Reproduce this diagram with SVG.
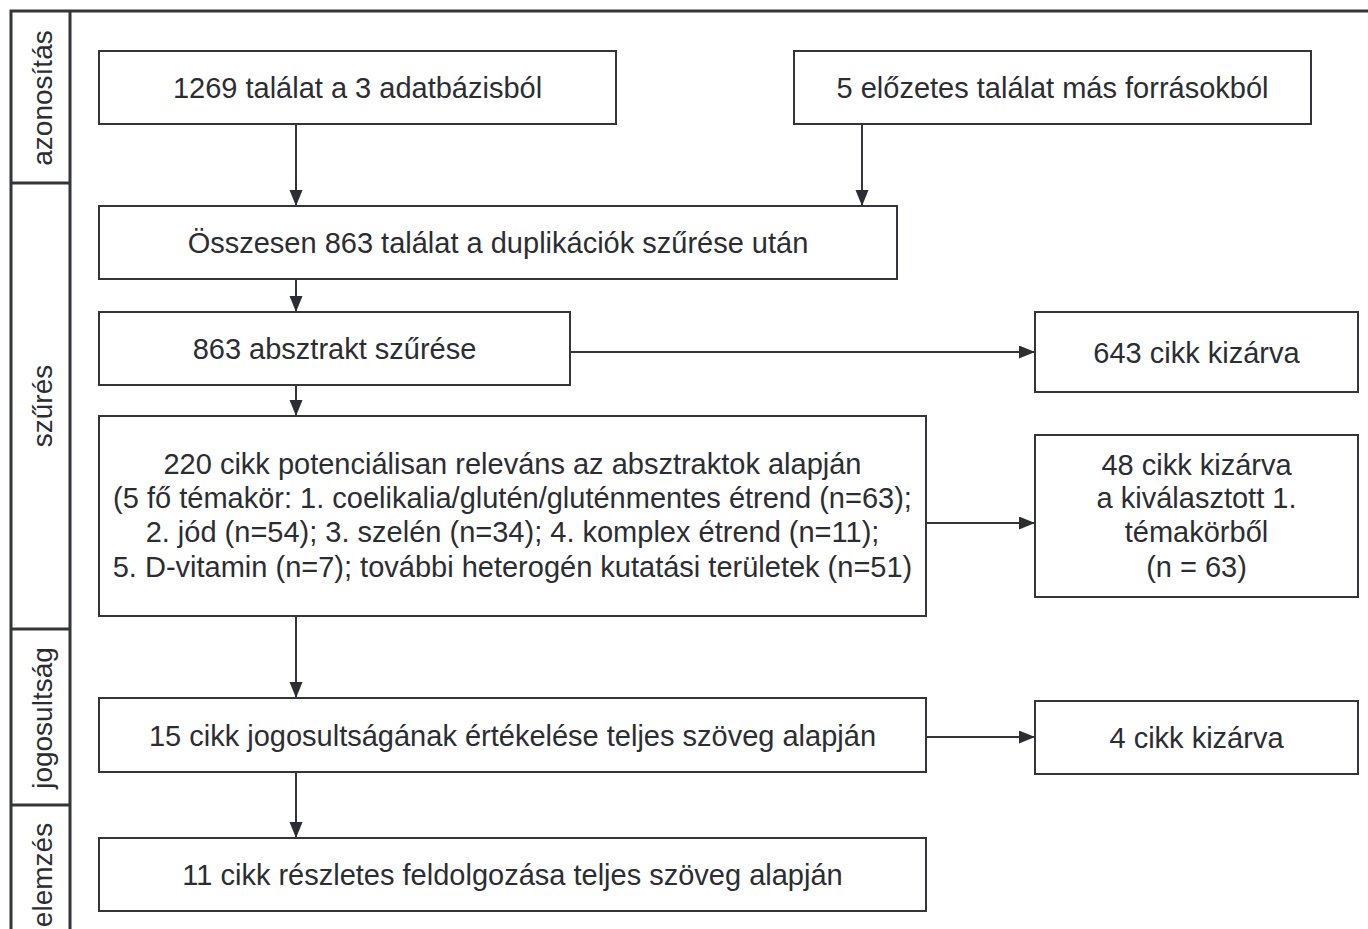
<svg xmlns="http://www.w3.org/2000/svg" width="1368" height="929" viewBox="0 0 1368 929">
<defs>
<style>
.box{fill:#fff;stroke:#33353a;stroke-width:2}
.frame{stroke:#33353a;stroke-width:3;fill:none}
.t{font-family:"Liberation Sans",Arial,sans-serif;font-size:29px;fill:#2b2d33;text-anchor:middle}
.lab{font-family:"Liberation Sans",Arial,sans-serif;font-size:28px;fill:#2b2d33;text-anchor:middle}
.c{stroke:#33353a;stroke-width:2;fill:none;marker-end:url(#ah)}
</style>
<marker id="ah" markerUnits="userSpaceOnUse" markerWidth="17" markerHeight="14" refX="16" refY="6.5" orient="auto">
<path d="M0,0 L16,6.5 L0,13 z" fill="#2b2d33"/>
</marker>
</defs>
<rect width="1368" height="929" fill="#fff"/>
<g id="frame">
<path class="frame" d="M11,929 V11 H1368 M70,11 V929 M11,183 H70 M11,629 H70 M11,805 H70"/>
<text class="lab" transform="translate(52,98) rotate(-90)">azonosítás</text>
<text class="lab" transform="translate(52,406) rotate(-90)">szűrés</text>
<text class="lab" transform="translate(52,718) rotate(-90)">jogosultság</text>
<text class="lab" transform="translate(52,875) rotate(-90)">elemzés</text>
</g>
<g id="connectors">
<path class="c" d="M296,124 V206"/>
<path class="c" d="M862,124 V206"/>
<path class="c" d="M296,279 V312"/>
<path class="c" d="M570,352 H1035"/>
<path class="c" d="M296,385 V416"/>
<path class="c" d="M926,523 H1035"/>
<path class="c" d="M296,616 V698"/>
<path class="c" d="M926,737 H1035"/>
<path class="c" d="M296,772 V838"/>
</g>
<g id="n1"><rect class="box" x="99" y="51" width="517" height="73"/><text class="t" x="357.5" y="98">1269 találat a 3 adatbázisból</text></g>
<g id="n2"><rect class="box" x="794" y="51" width="517" height="73"/><text class="t" x="1052.5" y="98">5 előzetes találat más forrásokból</text></g>
<g id="n3"><rect class="box" x="99" y="206" width="798" height="73"/><text class="t" x="498" y="253">Összesen 863 találat a duplikációk szűrése után</text></g>
<g id="n4"><rect class="box" x="99" y="312" width="471" height="73"/><text class="t" x="334.5" y="359">863 absztrakt szűrése</text></g>
<g id="n5"><rect class="box" x="1035" y="312" width="323" height="80"/><text class="t" x="1196.5" y="363">643 cikk kizárva</text></g>
<g id="n6"><rect class="box" x="99" y="416" width="827" height="200"/>
<text class="t" x="512.5" y="474">220 cikk potenciálisan releváns az absztraktok alapján</text>
<text class="t" x="512.5" y="508">(5 fő témakör: 1. coelikalia/glutén/gluténmentes étrend (n=63);</text>
<text class="t" x="512.5" y="542">2. jód (n=54); 3. szelén (n=34); 4. komplex étrend (n=11);</text>
<text class="t" x="512.5" y="577">5. D-vitamin (n=7); további heterogén kutatási területek (n=51)</text>
</g>
<g id="n7"><rect class="box" x="1035" y="435" width="323" height="162"/>
<text class="t" x="1196.5" y="475">48 cikk kizárva</text>
<text class="t" x="1196.5" y="508">a kiválasztott 1.</text>
<text class="t" x="1196.5" y="542">témakörből</text>
<text class="t" x="1196.5" y="577">(n = 63)</text>
</g>
<g id="n8"><rect class="box" x="99" y="698" width="827" height="74"/><text class="t" x="512.5" y="746">15 cikk jogosultságának értékelése teljes szöveg alapján</text></g>
<g id="n9"><rect class="box" x="1035" y="701" width="323" height="73"/><text class="t" x="1196.5" y="748">4 cikk kizárva</text></g>
<g id="n10"><rect class="box" x="99" y="838" width="827" height="73"/><text class="t" x="512.5" y="885">11 cikk részletes feldolgozása teljes szöveg alapján</text></g>
</svg>
